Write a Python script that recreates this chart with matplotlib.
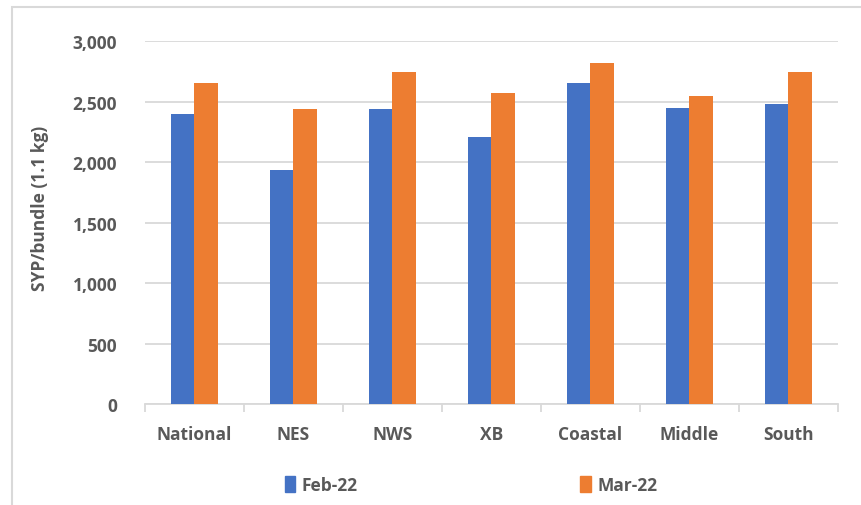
import numpy as np
import matplotlib.pyplot as plt
from matplotlib.patches import Rectangle, Patch

# average bread price per region, SYP per 1.1 kg bundle
regions = ['National', 'NES', 'NWS', 'XB', 'Coastal', 'Middle', 'South']
feb_22 = [2400, 1930, 2436, 2204, 2650, 2450, 2480]
mar_22 = [2652, 2436, 2741, 2567, 2818, 2546, 2743]
series_names = ['Feb-22', 'Mar-22']
yticks = [0, 500, 1000, 1500, 2000, 2500, 3000]

blue = '#4472C4'
orange = '#ED7D31'
txt = '#595959'
grid = '#D9D9D9'

plt.rcParams['font.family'] = ['Open Sans', 'DejaVu Sans']

fig = plt.figure(figsize=(8.62, 5.06), dpi=100)
ax = fig.add_axes([145/862, 1 - 405/506, 693/862, 363/506])

x = np.arange(len(regions))
w = 0.237
ax.bar(x - w/2, feb_22, w, color=blue, linewidth=0, zorder=3)
ax.bar(x + w/2, mar_22, w, color=orange, linewidth=0, zorder=3)

ax.set_xlim(-0.5, len(regions) - 0.5)
ax.set_ylim(0, 3000)
ax.set_yticks(yticks)
ax.set_yticklabels(['{:,}'.format(v) for v in yticks])
ax.yaxis.grid(True, color=grid, linewidth=1.3)
ax.set_axisbelow(True)

ax.set_xticks(x)
ax.set_xticklabels(regions)
ax.set_xticks(np.arange(len(regions) + 1) - 0.5, minor=True)
ax.tick_params(axis='x', which='major', length=0, pad=15)
ax.tick_params(axis='x', which='minor', length=6, color=grid, width=1.3)
ax.tick_params(axis='y', length=0, pad=20)
for lab in ax.get_xticklabels() + ax.get_yticklabels():
    lab.set_fontsize(12.5)
    lab.set_fontweight('bold')
    lab.set_color(txt)

for s in ['top', 'right', 'left']:
    ax.spines[s].set_visible(False)
ax.spines['bottom'].set_color(grid)
ax.spines['bottom'].set_linewidth(1.3)

fig.text(40/862, 1 - 208/506, 'SYP/bundle (1.1 kg)', rotation=90,
         ha='center', va='center', fontsize=12.5, fontweight='bold', color=txt)

handles = [Patch(color=blue), Patch(color=orange)]
fig.legend(handles, series_names, loc='center', bbox_to_anchor=(471/862, 1 - 486/506),
           ncol=2, frameon=False, columnspacing=12.8, handlelength=0.6, handleheight=1.0,
           handletextpad=0.4, prop={'size': 12.5, 'weight': 'bold'},
           labelcolor=txt)

# chart frame
fig.patches.append(Rectangle((12/862, -0.1), 1.0, 1 - 8/506 + 0.1,
                             transform=fig.transFigure, fill=False,
                             edgecolor='#D9D9D9', linewidth=1.5))

fig.savefig('out.png', dpi=100)
